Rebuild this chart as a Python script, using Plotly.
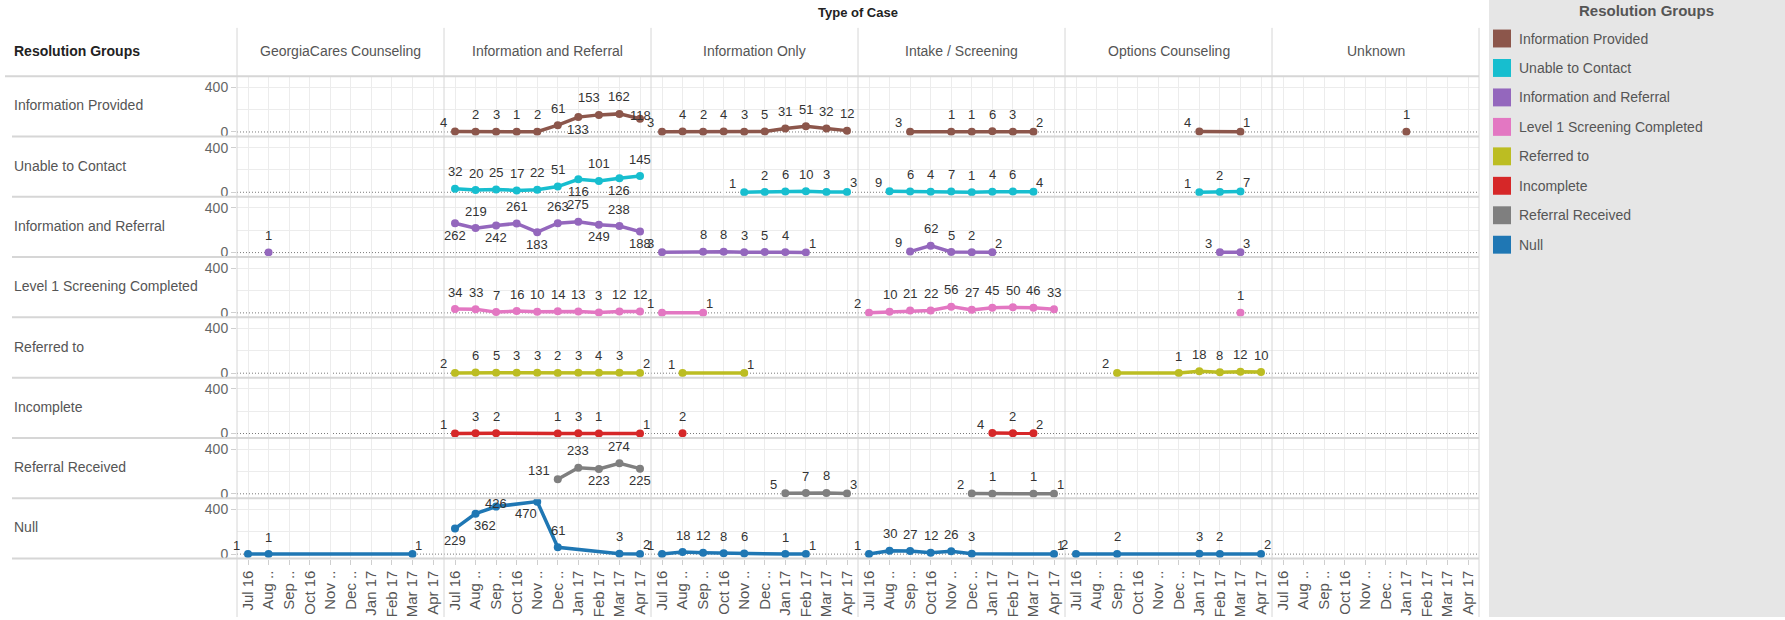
"""Monthly case counts by Resolution Group and Type of Case (Tableau-style small multiples)."""

import plotly.graph_objects as go
from plotly.subplots import make_subplots

N = None

# ─── Data ─────────────────────────────────────────────────────────────────────

MONTHS = ["Jul 16", "Aug ..", "Sep ..", "Oct 16", "Nov ..", "Dec ..",
          "Jan 17", "Feb 17", "Mar 17", "Apr 17"]

CASE_TYPES = ["GeorgiaCares Counseling", "Information and Referral",
              "Information Only", "Intake / Screening", "Options Counseling",
              "Unknown"]

GROUPS = ["Information Provided", "Unable to Contact", "Information and Referral",
          "Level 1 Screening Completed", "Referred to", "Incomplete",
          "Referral Received", "Null"]

# one list per Type of Case, months Jul 16 .. Apr 17
INFO_PROVIDED = [
    [N, N, N, N, N, N, N, N, N, N],
    [4, 2, 3, 1, 2, 61, 133, 153, 162, 118],
    [3, 4, 2, 4, 3, 5, 31, 51, 32, 12],
    [N, N, 3, N, 1, 1, 6, 3, 2, N],
    [N, N, N, N, N, N, 4, N, 1, N],
    [N, N, N, N, N, N, 1, N, N, N],
]
UNABLE_TO_CONTACT = [
    [N, N, N, N, N, N, N, N, N, N],
    [32, 20, 25, 17, 22, 51, 116, 101, 126, 145],
    [N, N, N, N, 1, 2, 6, 10, 3, 3],
    [N, 9, 6, 4, 7, 1, 4, 6, 4, N],
    [N, N, N, N, N, N, 1, 2, 7, N],
    [N, N, N, N, N, N, N, N, N, N],
]
INFO_AND_REFERRAL = [
    [N, 1, N, N, N, N, N, N, N, N],
    [262, 219, 242, 261, 183, 263, 275, 249, 238, 188],
    [3, N, 8, 8, 3, 5, 4, 1, N, N],
    [N, N, 9, 62, 5, 2, 2, N, N, N],
    [N, N, N, N, N, N, N, 3, 3, N],
    [N, N, N, N, N, N, N, N, N, N],
]
LEVEL1_SCREENING = [
    [N, N, N, N, N, N, N, N, N, N],
    [34, 33, 7, 16, 10, 14, 13, 3, 12, 12],
    [1, N, 1, N, N, N, N, N, N, N],
    [2, 10, 21, 22, 56, 27, 45, 50, 46, 33],
    [N, N, N, N, N, N, N, N, 1, N],
    [N, N, N, N, N, N, N, N, N, N],
]
REFERRED_TO = [
    [N, N, N, N, N, N, N, N, N, N],
    [2, 6, 5, 3, 3, 2, 3, 4, 3, 2],
    [N, 1, N, N, 1, N, N, N, N, N],
    [N, N, N, N, N, N, N, N, N, N],
    [N, N, 2, N, N, 1, 18, 8, 12, 10],
    [N, N, N, N, N, N, N, N, N, N],
]
INCOMPLETE = [
    [N, N, N, N, N, N, N, N, N, N],
    [1, 3, 2, N, N, 1, 3, 1, N, 1],
    [N, 2, N, N, N, N, N, N, N, N],
    [N, N, N, N, N, N, 4, 2, 2, N],
    [N, N, N, N, N, N, N, N, N, N],
    [N, N, N, N, N, N, N, N, N, N],
]
REFERRAL_RECEIVED = [
    [N, N, N, N, N, N, N, N, N, N],
    [N, N, N, N, N, 131, 233, 223, 274, 225],
    [N, N, N, N, N, N, 5, 7, 8, 3],
    [N, N, N, N, N, 2, 1, N, 1, 1],
    [N, N, N, N, N, N, N, N, N, N],
    [N, N, N, N, N, N, N, N, N, N],
]
NULL_GROUP = [
    [1, 1, N, N, N, N, N, N, 1, N],
    [229, 362, 426, N, 470, 61, N, N, 3, 2],
    [1, 18, 12, 8, 6, N, 1, 1, N, N],
    [1, 30, 27, 12, 26, 3, N, N, N, 1],
    [2, N, 2, N, N, N, 3, 2, N, 2],
    [N, N, N, N, N, N, N, N, N, N],
]

SERIES = [INFO_PROVIDED, UNABLE_TO_CONTACT, INFO_AND_REFERRAL, LEVEL1_SCREENING,
          REFERRED_TO, INCOMPLETE, REFERRAL_RECEIVED, NULL_GROUP]

# ─── Styling ──────────────────────────────────────────────────────────────────

GROUP_COLORS = ["#8c564b", "#17becf", "#9467bd", "#e377c2",
                "#bcbd22", "#d62728", "#7f7f7f", "#1f77b4"]

FONT = "Liberation Sans, Arial, sans-serif"

# label placement overrides (row, col) -> one code per month
# l/r = side labels at line ends, a = above, b = below, c = on point,
# A = above-left, B = below-right, D = below-left
LABEL_POS = {
    (0, 1): "laaaaabAac",
    (0, 2): "laaaaaaaaa",
    (1, 1): "aaaaaababa",
    (2, 1): "bababaabab",
    (3, 1): "aaaaaaaaaa",
    (3, 3): "laaaaaaaaa",
    (4, 4): "--l--aaaaa",
    (6, 1): "-----labab",
    (7, 1): "bBc-Da--ar",
}
OFFSETS = {"a": (0, 17), "b": (0, -12), "c": (0, 3),
           "A": (-10, 17), "B": (9, -12), "D": (-11, -12)}

W, H = 1785, 620
COL_X0, COL_W = 237, 207
ROW_Y0, ROW_H = 76.5, 60.6
GRID = "#ececec"
SEP = "#d6d6d6"

fig = make_subplots(rows=8, cols=6, horizontal_spacing=0, vertical_spacing=0)

for r, group in enumerate(GROUPS):
    for c, case in enumerate(CASE_TYPES):
        idx = r * 6 + c + 1
        sfx = "" if idx == 1 else str(idx)
        ytop = ROW_Y0 + ROW_H * r
        fig.layout["xaxis" + sfx].update(
            domain=[(COL_X0 + COL_W * c) / W, (COL_X0 + COL_W * (c + 1)) / W],
            range=[-0.535, 9.535], tickmode="array",
            tickvals=list(range(10)), ticktext=MONTHS,
            showticklabels=(r == 7), tickangle=-90,
            ticks="outside" if r == 7 else "", ticklen=5, tickcolor="#cfcfcf",
            tickfont=dict(size=15, color="#555555", family=FONT),
            showgrid=True, gridcolor=GRID, gridwidth=1,
            zeroline=False, showline=False, fixedrange=True,
        )
        fig.layout["yaxis" + sfx].update(
            domain=[1 - (ytop + ROW_H) / H, 1 - ytop / H],
            range=[-40, 500], tickmode="array",
            tickvals=[0, 400], ticktext=["0", "400"],
            showticklabels=(c == 0),
            ticks="outside" if c == 0 else "", ticklen=5, tickcolor="#cfcfcf",
            tickfont=dict(size=14, color="#666666", family=FONT),
            showgrid=False,
            minor=dict(tickvals=[200, 400], showgrid=True, gridcolor=GRID,
                       gridwidth=1, ticks=""),
            zeroline=False, showline=False, fixedrange=True,
        )

        # dotted zero reference line across every pane
        fig.add_shape(type="line", xref=f"x{sfx} domain", yref=f"y{sfx}",
                      x0=0, x1=1, y0=0, y1=0, layer="below",
                      line=dict(color="#7a7a7a", width=1, dash="1px,2px"))

        vals = SERIES[r][c]
        pts = [(m, v) for m, v in enumerate(vals) if v is not None]
        if not pts:
            continue
        xs = [p[0] for p in pts]
        ys = [p[1] for p in pts]
        color = GROUP_COLORS[r]
        fig.add_trace(go.Scatter(
            x=xs, y=ys, mode="lines+markers",
            line=dict(color=color, width=3.5),
            marker=dict(color=color, size=8),
            cliponaxis=False, showlegend=False,
            name=group, hovertemplate=f"{group}<br>{case}<br>%{{y}}<extra></extra>",
        ), row=r + 1, col=c + 1)

        codes = LABEL_POS.get((r, c))
        for i, (m, v) in enumerate(pts):
            if codes:
                code = codes[m]
            elif len(pts) == 1:
                code = "a"
            elif i == 0:
                code = "l"
            elif i == len(pts) - 1:
                code = "r"
            else:
                code = "a"
            if code == "l":
                xa, dx, dy = "right", -7, 9
            elif code == "r":
                xa, dx, dy = "left", 2, 9
            else:
                xa = "center"
                dx, dy = OFFSETS[code]
            fig.add_annotation(
                x=m, y=v, xref=f"x{sfx}", yref=f"y{sfx}", text=str(v),
                showarrow=False, xanchor=xa, yanchor="middle",
                xshift=dx, yshift=dy, borderpad=0,
                font=dict(size=13, color="#333333", family=FONT),
            )

# ─── Table frame: headers, row labels, separators ────────────────────────────

def px_x(x):
    return x / W


def px_y(y):
    return 1 - y / H


def paper_text(x, y, text, size=14, color="#555555", anchor="center"):
    fig.add_annotation(x=px_x(x), y=px_y(y), xref="paper", yref="paper",
                       xanchor=anchor, yanchor="middle", text=text,
                       showarrow=False,
                       font=dict(size=size, color=color, family=FONT))


paper_text(COL_X0 + COL_W * 3, 13, "<b>Type of Case</b>", 13, "#222222")
paper_text(12, 51, "<b>Resolution Groups</b>", 14, "#222222", "left")

for c, case in enumerate(CASE_TYPES):
    paper_text(COL_X0 + COL_W * (c + 0.5), 51, case)

for r, group in enumerate(GROUPS):
    paper_text(12, ROW_Y0 + ROW_H * (r + 0.5) - 1, group, anchor="left")

# horizontal row separators
for r in range(9):
    y = px_y(ROW_Y0 + ROW_H * r)
    fig.add_shape(type="line", xref="paper", yref="paper",
                  x0=px_x(5 if r == 0 else 12), x1=px_x(COL_X0 + COL_W * 6),
                  y0=y, y1=y, line=dict(color=SEP, width=2), layer="above")

# vertical column separators
for c in range(7):
    x = px_x(COL_X0 + COL_W * c)
    fig.add_shape(type="line", xref="paper", yref="paper",
                  x0=x, x1=x, y0=0, y1=px_y(28),
                  line=dict(color=SEP, width=1), layer="above")

# ─── Colour legend panel ──────────────────────────────────────────────────────

fig.add_shape(type="rect", xref="paper", yref="paper",
              x0=px_x(1489), x1=1, y0=0, y1=1,
              fillcolor="#e6e6e6", line=dict(width=0), layer="below")
paper_text(1646, 11, "<b>Resolution Groups</b>", 15)
for i, group in enumerate(GROUPS):
    yc = 38.7 + 29.6 * i
    fig.add_shape(type="rect", xref="paper", yref="paper",
                  x0=px_x(1493), x1=px_x(1511), y0=px_y(yc + 9), y1=px_y(yc - 9),
                  fillcolor=GROUP_COLORS[i], line=dict(width=0), layer="above")
    paper_text(1517, yc, group, anchor="left")

fig.update_layout(
    width=W, height=H,
    margin=dict(t=0, b=0, l=0, r=0),
    paper_bgcolor="#ffffff", plot_bgcolor="rgba(0,0,0,0)",
    font=dict(family=FONT),
    showlegend=False,
    hovermode="closest",
)

fig.write_html("out.html", config={"displayModeBar": False},
               post_script="document.body.style.margin='0';")
